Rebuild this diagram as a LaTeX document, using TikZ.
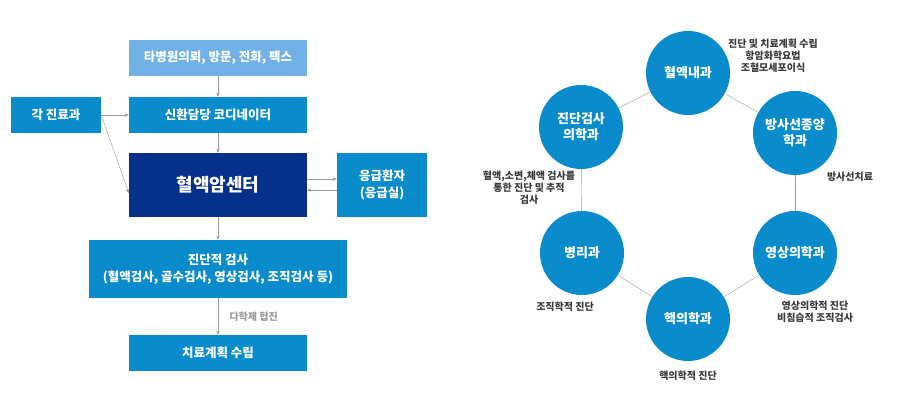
\documentclass[tikz,border=0pt]{standalone}
\usepackage{fontspec}
\setmainfont{Noto Sans CJK KR}
\usetikzlibrary{arrows.meta}
\definecolor{boxblue}{HTML}{0A8BCB}
\definecolor{lightblue}{HTML}{72B1E6}
\definecolor{navyblue}{HTML}{06318B}
\definecolor{arrowgray}{HTML}{9A9A9A}
\definecolor{notegray}{HTML}{3A3A3A}
\begin{document}
\begin{tikzpicture}[x=1pt,y=-1pt, >={Stealth[length=4pt,width=3.5pt]},
  every node/.style={font=\fontsize{12.5}{17}\selectfont\bfseries},
  box/.style={fill=boxblue,text=white,minimum width=178pt,minimum height=36pt,inner sep=0pt,align=center},
  dept/.style={circle,fill=boxblue,text=white,minimum size=84pt,inner sep=0pt,align=center,font=\fontsize{13}{16}\selectfont\bfseries},
  note/.style={font=\fontsize{10}{11.8}\selectfont\bfseries,text=notegray,align=center},
  arr/.style={->,thin,arrowgray},
  link/.style={thin,arrowgray}]
\useasboundingbox (0,0) rectangle (913,415);
% patient flow
\begin{scope}
\node[box,fill=lightblue] (req) at (218,58) {타병원의뢰, 방문, 전화, 팩스};
\node[box] (coord) at (218,115) {신환담당 코디네이터};
\node[box,minimum width=90pt] (clinic) at (56,115) {각 진료과};
\node[box,fill=navyblue,minimum height=64pt,font=\fontsize{18}{20}\selectfont\bfseries] (center) at (218,185) {혈액암센터};
\node[box,minimum width=90pt,minimum height=64pt] (emer) at (382,185) {응급환자\\(응급실)};
\node[box,minimum width=258pt,minimum height=58pt] (diag) at (218,269) {진단적 검사\\(혈액검사, 골수검사, 영상검사, 조직검사 등)};
\node[box] (plan) at (218,353) {치료계획 수립};
\draw[arr] (req) -- (coord);
\draw[arr] (clinic) -- (coord);
\draw[arr] (clinic.east) -- ([yshift=-8pt]center.west);
\draw[arr] (coord) -- (center);
\draw[arr] ([yshift=6pt]center.east) -- ([yshift=6pt]emer.west);
\draw[arr] ([yshift=-5pt]emer.west) -- ([yshift=-5pt]center.east);
\draw[arr] (center) -- (diag);
\draw[arr] (diag) -- (plan) node[midway,right=8pt,font=\fontsize{10}{11}\selectfont\bfseries,text=arrowgray] {다학제 협진};
\end{scope}
% departments
\begin{scope}
\node[dept] (hem) at (688,73) {혈액내과};
\node[dept] (lab) at (581,127) {진단검사\\의학과};
\node[dept] (rad) at (795,133) {방사선종양\\학과};
\node[dept] (path) at (582,253) {병리과};
\node[dept] (img) at (795,253) {영상의학과};
\node[dept] (nuc) at (688,319) {핵의학과};
\draw[link] (hem) -- (lab);
\draw[link] (hem) -- (rad);
\draw[link] (lab) -- (path);
\draw[link] (rad) -- (img);
\draw[link] (path) -- (nuc);
\draw[link] (img) -- (nuc);
\node[note] (hemnote) at (773,55.5) {진단 및 치료계획 수립\\항암화학요법\\조혈모세포이식};
\node[note] (labnote) at (529,188) {혈액,소변,체액 검사를\\통한 진단 및 추적\\검사};
\node[note] (radnote) at (850,177) {방사선치료};
\node[note] (pathnote) at (565,307) {조직학적 진단};
\node[note] (imgnote) at (815,312) {영상의학적 진단\\비침습적 조직검사};
\node[note] (nucnote) at (688,376) {핵의학적 진단};
\end{scope}
\end{tikzpicture}
\end{document}
